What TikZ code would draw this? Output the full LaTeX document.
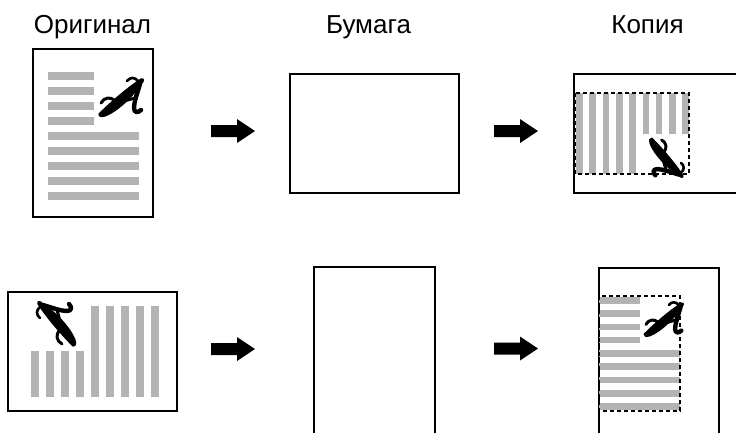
\documentclass[tikz,border=0pt]{standalone}
\usepackage{fontspec}
\setmainfont{Liberation Sans}
\definecolor{bargray}{RGB}{179,179,179}
\tikzset{
  paper/.style={draw=black, line width=2pt, inner sep=0pt, outer sep=0pt, fill=white},
  landscape/.style={paper, minimum width=169pt, minimum height=119pt},
  portrait/.style={paper, minimum width=120pt, minimum height=168pt},
  tallsheet/.style={paper, minimum width=121pt, minimum height=169pt},
  title/.style={font=\fontsize{26}{30}\selectfont, anchor=base, inner sep=0pt},
  bar/.style={fill=bargray},
  dashbox/.style={draw=black, line width=1.1pt, dash pattern=on 4pt off 3pt},
  brush/.style={draw=black, line cap=round, line join=round},
  doc/.pic={
    \foreach \k in {0,...,3} \fill[bar] (0,\k*15) rectangle (46,\k*15+7.5);
    \foreach \k in {4,...,8} \fill[bar] (0,\k*15) rectangle (91,\k*15+7.5);
    % brush-script letter A
    \filldraw[black, line width=1.2pt, line join=round]
                 (51,42) .. controls (62,31) and (78,17) .. (93,7)
                 .. controls (96,6) and (96,9) .. (94,11)
                 .. controls (85,24) and (70,39) .. (57,44)
                 .. controls (54,45) and (51,45) .. cycle;
    \draw[brush, line width=2.6pt] (90,9) .. controls (87,5) and (82,5) .. (79,9);
    \draw[brush, line width=4.4pt] (92,12) .. controls (89,22) and (86,30) .. (86,36)
                 .. controls (86,41) and (90,41) .. (93,38);
    \draw[brush, line width=3pt] (53,31) .. controls (56,25) and (63,25) .. (66,28)
                 .. controls (70,31) and (76,29) .. (87,26);
  },
  blockarrow/.pic={
    \fill[black] (0,-6) -- (26,-6) -- (26,-12) -- (44,0) -- (26,12) -- (26,6) -- (0,6) -- cycle;
  }
}
\begin{document}
\begin{tikzpicture}[x=1pt,y=-1pt]
\useasboundingbox (0,0) rectangle (736,432);
\clip (0,0) rectangle (736,432);
% titles
\node[title] (t1) at (92.5,33) {Оригинал};
\node[title] (t2) at (368.5,33) {Бумага};
\node[title] (t3) at (647.5,33) {Копия};
% sheets
\node[portrait] (orig1) at (93,133) {};
\node[landscape] (paper1) at (374.5,133.5) {};
\node[landscape] (copy1) at (658.5,133.5) {};
\node[landscape] (orig2) at (92.5,351.5) {};
\node[tallsheet] (paper2) at (374.5,351.5) {};
\node[portrait] (copy2) at (658.5,351.5) {};
% contents
\pic[transform shape] (d1) at (48,72) {doc};
\begin{scope}[shift={(31,397)}, rotate=90]
  \pic[transform shape] (d2) at (0,0) {doc};
\end{scope}
\begin{scope}[shift={(689,93)}, rotate=-90, scale=0.885]
  \pic[transform shape] (d3) at (0,0) {doc};
\end{scope}
\draw[dashbox] (575,93) rectangle (689,174);
\begin{scope}[shift={(599,297)}, scale=0.885]
  \pic[transform shape] (d4) at (0,0) {doc};
\end{scope}
\draw[dashbox] (599,296) rectangle (680,411);
% arrows
\pic (a1) at (211,131) {blockarrow};
\pic (a2) at (494,131) {blockarrow};
\pic (a3) at (211,349) {blockarrow};
\pic (a4) at (494,348.5) {blockarrow};
\end{tikzpicture}
\end{document}
